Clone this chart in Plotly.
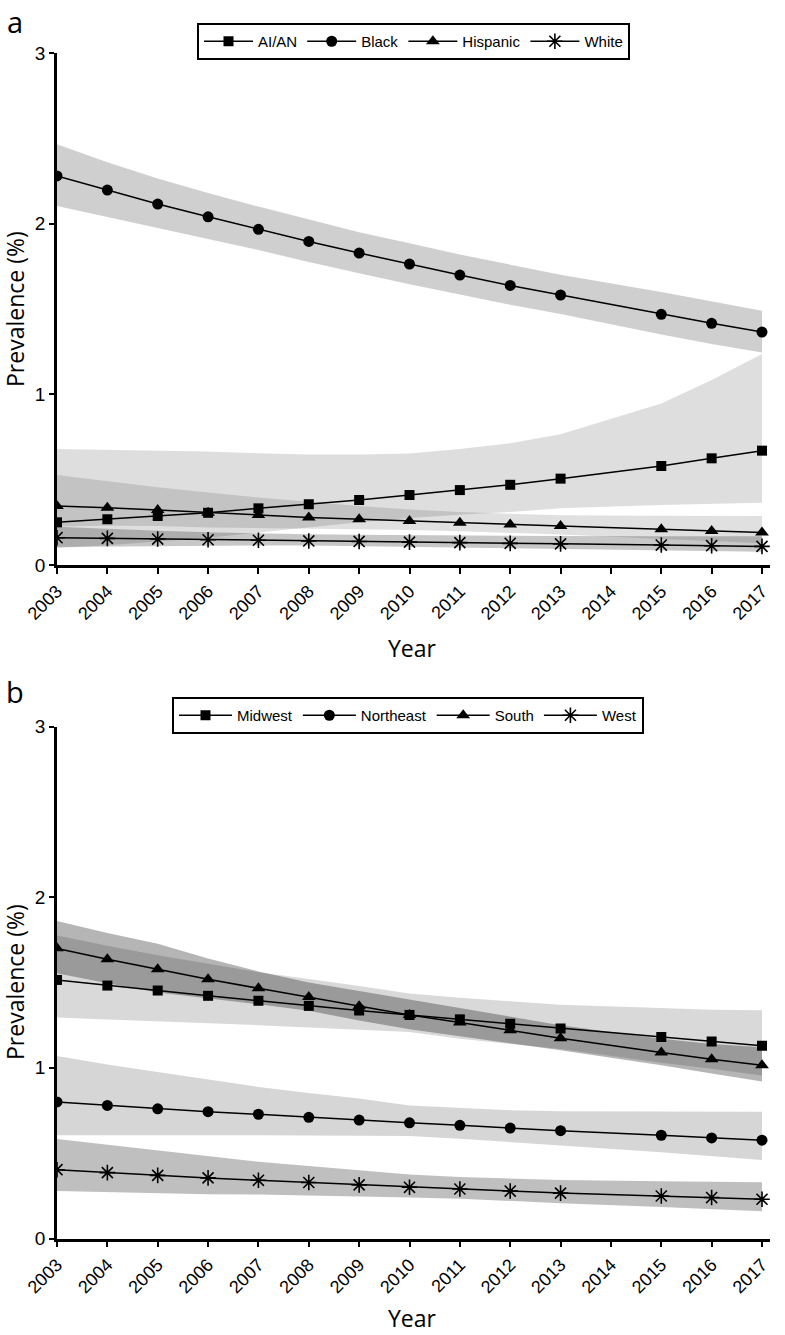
import plotly.graph_objects as go

years = [2003, 2004, 2005, 2006, 2007, 2008, 2009, 2010, 2011, 2012, 2013, 2015, 2016, 2017]
tick_years = list(range(2003, 2018))

# Panel a: race/ethnicity
aian = [0.25, 0.268, 0.287, 0.306, 0.332, 0.356, 0.381, 0.41, 0.439, 0.47, 0.506, 0.58, 0.625, 0.67]
aian_hi = [0.68, 0.675, 0.67, 0.665, 0.655, 0.648, 0.648, 0.654, 0.68, 0.713, 0.766, 0.947, 1.084, 1.236]
aian_lo = [0.10, 0.115, 0.137, 0.16, 0.19, 0.22, 0.25, 0.275, 0.295, 0.31, 0.332, 0.351, 0.36, 0.365]

black = [2.28, 2.197, 2.115, 2.04, 1.967, 1.896, 1.828, 1.763, 1.699, 1.638, 1.582, 1.469, 1.416, 1.365]
black_hi = [2.465, 2.36, 2.265, 2.18, 2.1, 2.025, 1.95, 1.885, 1.82, 1.76, 1.70, 1.6, 1.545, 1.49]
black_lo = [2.103, 2.04, 1.975, 1.91, 1.845, 1.775, 1.71, 1.645, 1.585, 1.525, 1.47, 1.35, 1.295, 1.245]

hisp = [0.345, 0.336, 0.322, 0.306, 0.293, 0.279, 0.268, 0.258, 0.248, 0.238, 0.228, 0.209, 0.199, 0.191]
hisp_hi = [0.527, 0.49, 0.455, 0.425, 0.395, 0.37, 0.345, 0.325, 0.31, 0.30, 0.292, 0.288, 0.287, 0.287]
hisp_lo = [0.226, 0.23, 0.228, 0.22, 0.217, 0.21, 0.208, 0.205, 0.198, 0.189, 0.178, 0.152, 0.138, 0.127]

white = [0.16, 0.156, 0.152, 0.148, 0.145, 0.141, 0.138, 0.134, 0.131, 0.127, 0.124, 0.117, 0.113, 0.109]
white_hi = [0.224, 0.21, 0.2, 0.192, 0.185, 0.18, 0.177, 0.175, 0.172, 0.171, 0.17, 0.169, 0.168, 0.168]
white_lo = [0.105, 0.108, 0.11, 0.112, 0.114, 0.114, 0.113, 0.11, 0.106, 0.101, 0.096, 0.086, 0.082, 0.078]

# Panel b: region
midwest = [1.515, 1.482, 1.453, 1.422, 1.393, 1.363, 1.336, 1.31, 1.284, 1.259, 1.231, 1.181, 1.155, 1.13]
midwest_hi = [1.775, 1.715, 1.66, 1.61, 1.56, 1.52, 1.48, 1.435, 1.41, 1.39, 1.37, 1.35, 1.34, 1.337]
midwest_lo = [1.295, 1.283, 1.27, 1.26, 1.25, 1.237, 1.225, 1.21, 1.17, 1.14, 1.11, 1.03, 0.995, 0.955]

northeast = [0.80, 0.78, 0.76, 0.743, 0.728, 0.71, 0.694, 0.678, 0.663, 0.647, 0.632, 0.605, 0.589, 0.576]
northeast_hi = [1.07, 1.02, 0.975, 0.93, 0.888, 0.852, 0.82, 0.78, 0.765, 0.752, 0.745, 0.742, 0.742, 0.742]
northeast_lo = [0.605, 0.605, 0.605, 0.605, 0.605, 0.604, 0.603, 0.6, 0.585, 0.565, 0.545, 0.506, 0.485, 0.46]

south = [1.70, 1.636, 1.578, 1.519, 1.466, 1.415, 1.361, 1.31, 1.265, 1.22, 1.174, 1.09, 1.05, 1.015]
south_hi = [1.86, 1.79, 1.727, 1.64, 1.565, 1.50, 1.45, 1.40, 1.35, 1.30, 1.25, 1.17, 1.14, 1.12]
south_lo = [1.554, 1.495, 1.442, 1.407, 1.373, 1.335, 1.277, 1.226, 1.185, 1.145, 1.103, 1.015, 0.967, 0.92]

west = [0.403, 0.386, 0.37, 0.355, 0.341, 0.328, 0.314, 0.30, 0.29, 0.278, 0.266, 0.249, 0.24, 0.23]
west_hi = [0.583, 0.55, 0.519, 0.485, 0.45, 0.425, 0.401, 0.375, 0.36, 0.35, 0.343, 0.336, 0.333, 0.33]
west_lo = [0.279, 0.273, 0.265, 0.26, 0.258, 0.253, 0.246, 0.24, 0.233, 0.222, 0.207, 0.185, 0.173, 0.16]

panel_a = [
    ("AI/AN", aian, aian_lo, aian_hi, "square", 10, "rgba(0,0,0,0.13)"),
    ("Black", black, black_lo, black_hi, "circle", 11, "rgba(0,0,0,0.19)"),
    ("Hispanic", hisp, hisp_lo, hisp_hi, "triangle-up", 12, "rgba(0,0,0,0.12)"),
    ("White", white, white_lo, white_hi, "asterisk-open", 13, "rgba(0,0,0,0.22)"),
]
panel_b = [
    ("Midwest", midwest, midwest_lo, midwest_hi, "square", 10, "rgba(0,0,0,0.15)"),
    ("Northeast", northeast, northeast_lo, northeast_hi, "circle", 11, "rgba(0,0,0,0.16)"),
    ("South", south, south_lo, south_hi, "triangle-up", 12, "rgba(0,0,0,0.29)"),
    ("West", west, west_lo, west_hi, "asterisk-open", 13, "rgba(0,0,0,0.25)"),
]

NARROW = "Liberation Sans, Arial, sans-serif"
REG = "Open Sans, Noto Sans, DejaVu Sans, sans-serif"

fig = go.Figure()

for panel, xa, ya, leg in [(panel_a, "x", "y", "legend"), (panel_b, "x2", "y2", "legend2")]:
    for name, vals, lo, hi, sym, size, fill in panel:
        fig.add_trace(go.Scatter(
            x=years + years[::-1], y=hi + lo[::-1], fill="toself", fillcolor=fill,
            line=dict(width=0), mode="lines", showlegend=False, hoverinfo="skip",
            xaxis=xa, yaxis=ya))
    for name, vals, lo, hi, sym, size, fill in panel:
        fig.add_trace(go.Scatter(
            x=years, y=vals, name=name, mode="lines+markers",
            line=dict(color="black", width=1.5),
            marker=dict(symbol=sym, size=size, color="black",
                        line=dict(color="black", width=1.6 if "asterisk" in sym else 0)),
            xaxis=xa, yaxis=ya, legend=leg))

W, H = 785, 1335
x0, x1 = 57 / W, 770 / W
xrange = [2003, 2017 + (770 - 762) / 50.36]

def xax(anchor):
    return dict(domain=[x0, x1], range=xrange, tickvals=tick_years,
                ticktext=[str(t) for t in tick_years], tickangle=-45,
                showline=True, linecolor="black", linewidth=2.5,
                ticks="outside", ticklen=6, tickwidth=2, tickcolor="black",
                showgrid=False, zeroline=False, anchor=anchor,
                tickfont=dict(family=NARROW, size=18, color="black"), automargin=False)

def yax(dom, anchor):
    return dict(domain=dom, range=[0, 3], tickvals=[0, 1, 2, 3],
                showline=True, linecolor="black", linewidth=2.5,
                ticks="outside", ticklen=5, tickwidth=2, tickcolor="black",
                showgrid=False, zeroline=False, anchor=anchor,
                tickfont=dict(family=NARROW, size=19, color="black"), automargin=False)

ya_dom = [1 - 565 / H, 1 - 53 / H]
yb_dom = [1 - 1238.5 / H, 1 - 726.5 / H]

legend_common = dict(orientation="h", xanchor="left", yanchor="top",
                     bordercolor="black", borderwidth=2, bgcolor="white",
                     font=dict(family=NARROW, size=15, color="black"))

fig.update_layout(
    width=W, height=H, margin=dict(l=0, r=0, t=0, b=0),
    plot_bgcolor="white", paper_bgcolor="white",
    xaxis=xax("y"), yaxis=yax(ya_dom, "x"),
    xaxis2=xax("y2"), yaxis2=yax(yb_dom, "x2"),
    legend=dict(x=197 / W, y=1 - 23 / H, itemwidth=49, **legend_common),
    legend2=dict(x=172 / W, y=1 - 697 / H, itemwidth=53, **legend_common),
    showlegend=True,
)

annos = [
    dict(text="a", x=15 / W, y=1 - 22 / H, font=dict(family=REG, size=29)),
    dict(text="b", x=15 / W, y=1 - 692 / H, font=dict(family=REG, size=29)),
    dict(text="Prevalence (%)", x=15 / W, y=1 - 309 / H, textangle=-90, font=dict(family=REG, size=23)),
    dict(text="Prevalence (%)", x=15 / W, y=1 - 982 / H, textangle=-90, font=dict(family=REG, size=23)),
    dict(text="Year", x=412 / W, y=1 - 648 / H, font=dict(family=REG, size=23)),
    dict(text="Year", x=412 / W, y=1 - 1318 / H, font=dict(family=REG, size=23)),
]
for a in annos:
    a["font"]["color"] = "black"
    fig.add_annotation(xref="paper", yref="paper", showarrow=False,
                       xanchor="center", yanchor="middle", **a)

fig.write_html("out.html", config={"displayModeBar": False},
               post_script="document.body.style.margin='0px';document.body.style.overflow='hidden';")
